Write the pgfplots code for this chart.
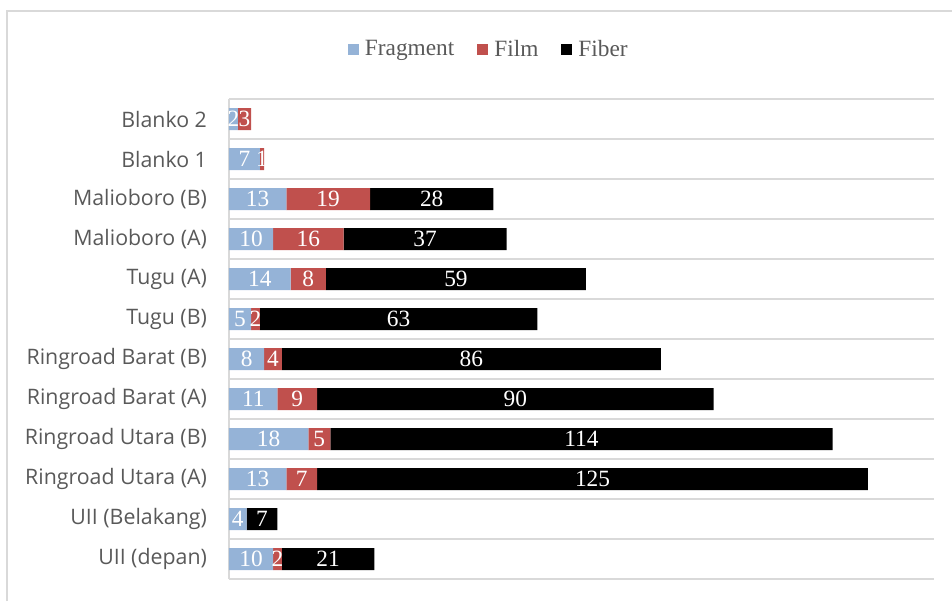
\documentclass[border=0pt]{standalone}
\usepackage{pgfplots}
\pgfplotsset{compat=1.18}
\usepackage{pgfplotstable}
\usepackage{fontspec}
\setmainfont{Liberation Serif}
\newfontfamily\catfont{Open Sans}

\definecolor{fragc}{RGB}{149,179,215}
\definecolor{filmc}{RGB}{192,80,77}
\definecolor{gridc}{RGB}{217,217,217}
\definecolor{labc}{RGB}{89,89,89}

% pos 0 = bottom row (UII depan), 11 = top row (Blanko 2)
\pgfplotstableread{
pos frag film fiber
0   10   2    21
1   4    0    7
2   13   7    125
3   18   5    114
4   11   9    90
5   8    4    86
6   5    2    63
7   14   8    59
8   10   16   37
9   13   19   28
10  7    1    0
11  2    3    0
}\sampel

\pgfplotsset{
  frame/.style={at={(0,0)}, anchor=south west,
    scale only axis, width=528.75pt, height=360pt,
    xmin=0, xmax=160, ymin=-0.5, ymax=11.5},
  seglabel/.style={scatter, only marks, mark=*, mark size=0pt, color=white},
}

\begin{document}
\begin{tikzpicture}
\useasboundingbox (-171.75pt,-16.5pt) rectangle (542.25pt,434.25pt);
\draw[gridc, line width=1.5pt] (-166.5pt,-16.5pt) -- (-166.5pt,426pt) -- (542.25pt,426pt);
\begin{axis}[
  frame,
  xbar stacked, bar width=16.5pt,
  axis x line=none,
  axis y line*=left,
  y axis line style={draw=gridc, line width=1.2pt, -},
  ytick={0,...,11},
  yticklabels={UII (depan),UII (Belakang),Ringroad Utara (A),Ringroad Utara (B),
    Ringroad Barat (A),Ringroad Barat (B),Tugu (B),Tugu (A),Malioboro (A),
    Malioboro (B),Blanko 1,Blanko 2},
  minor ytick={-0.5,0.5,...,11.5},
  yminorgrids=true,
  minor grid style={draw=gridc, line width=1.2pt},
  major tick length=0pt, minor tick length=0pt,
  yticklabel style={font=\catfont\fontsize{16}{19}\selectfont, text=labc, xshift=-13pt},
  legend style={draw=none, fill=none, at={(0.3688,1.104)}, anchor=center,
    font=\fontsize{17.5}{20}\selectfont, text=labc,
    /tikz/every even column/.append style={column sep=15pt}},
  legend image code/.code={\fill[#1] (0pt,-4.1pt) rectangle (8.25pt,4.1pt);
    \path (11pt,0pt);},
  legend columns=-1,
]
\addplot[fill=fragc, draw=none] table[x=frag, y=pos] {\sampel};
\addplot[fill=filmc, draw=none] table[x=film, y=pos] {\sampel};
\addplot[fill=black, draw=none] table[x=fiber, y=pos] {\sampel};
\legend{Fragment,Film,Fiber}
\end{axis}
% value labels, centred in each segment (same frame, no stacking)
\begin{axis}[
  frame, hide axis, clip=false,
  point meta=explicit symbolic,
  scatter/@pre marker code/.code={\ifnum\pgfplotspointmeta=0 \else
    \node[text=white, font=\fontsize{17.5}{20}\selectfont, inner sep=0pt]
      {\pgfplotspointmeta};\fi},
  scatter/@post marker code/.code={},
]
\addplot[seglabel] table[x expr=\thisrow{frag}/2, y=pos, meta=frag] {\sampel};
\addplot[seglabel] table[x expr=\thisrow{frag}+\thisrow{film}/2, y=pos, meta=film] {\sampel};
\addplot[seglabel] table[x expr=\thisrow{frag}+\thisrow{film}+\thisrow{fiber}/2, y=pos, meta=fiber] {\sampel};
\end{axis}
\end{tikzpicture}
\end{document}
